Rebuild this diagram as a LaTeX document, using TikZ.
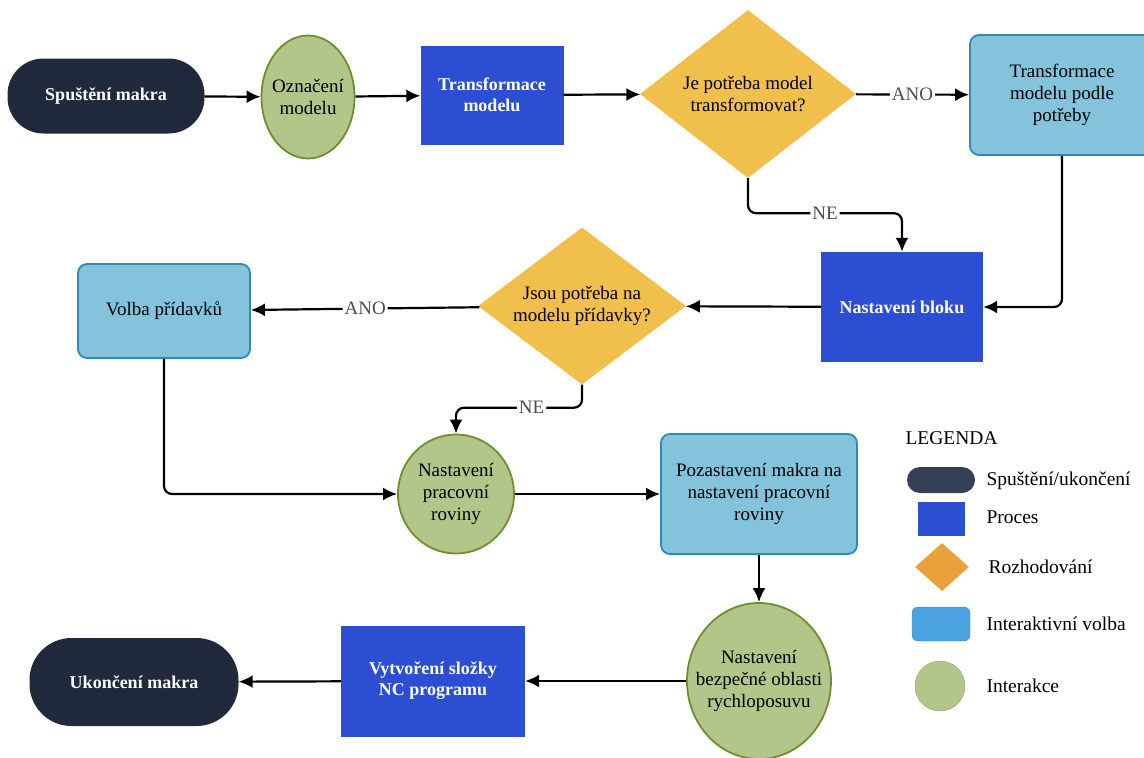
\documentclass[tikz,border=0pt]{standalone}
\usepackage{fontspec}
\setmainfont{Liberation Serif}
\usetikzlibrary{shapes.geometric,arrows.meta}

\definecolor{startc}{HTML}{212A3C}
\definecolor{procc}{HTML}{2B4ED3}
\definecolor{decc}{HTML}{F1C04C}
\definecolor{volc}{HTML}{83C3DC}
\definecolor{volb}{HTML}{2E8AB8}
\definecolor{intc}{HTML}{B2C68A}
\definecolor{intb}{HTML}{6F8E2F}
\definecolor{legstart}{HTML}{344055}
\definecolor{legdec}{HTML}{E9A23B}
\definecolor{legvol}{HTML}{4AA3E0}
\definecolor{legvolb}{HTML}{3A8AC8}

\tikzset{
  txt/.style={font=\fontsize{19}{22}\selectfont, align=center},
  startbox/.style={txt, rounded corners=36, fill=startc, text=white, font=\bfseries\fontsize{18}{21}\selectfont},
  procbox/.style={txt, rectangle, fill=procc, text=white, font=\bfseries\fontsize{18}{21}\selectfont},
  decbox/.style={diamond, fill=decc, inner sep=0pt, label={[txt]center:#1}},
  volbox/.style={txt, rounded corners=9, fill=volc, draw=volb, line width=1.8},
  intbox/.style={ellipse, fill=intc, draw=intb, line width=1.8, inner sep=0pt, label={[txt]center:#1}},
  arr/.style={-{Latex[length=14pt,width=13pt]}, line width=2.2, rounded corners=8},
  lbl/.style={fill=white, text=black!70, font=\fontsize{19}{22}\selectfont, inner sep=2pt},
  legtxt/.style={font=\fontsize{19.5}{23}\selectfont, anchor=west}
}

\begin{document}
\begin{tikzpicture}[x=1pt,y=-1pt]
\useasboundingbox (0,0) rectangle (1144,758);

% prvni rada
\node[startbox, minimum width=197, minimum height=75] (start) at (106,96) {Spuštění makra};
\node[intbox={Označení\\modelu}, minimum width=93, minimum height=123] (oznaceni) at (308,97) {};
\node[procbox, minimum width=143, minimum height=99] (transf) at (492,95) {Transformace\\modelu};
\node[decbox={Je potřeba model\\transformovat?}, minimum width=216, minimum height=168] (dec1) at (748,94) {};
\node[volbox, minimum width=184, minimum height=120] (podle) at (1062,95) {Transformace\\modelu podle\\potřeby};

% druha rada
\node[procbox, minimum width=162, minimum height=110] (blok) at (902,307) {Nastavení bloku};
\node[decbox={Jsou potřeba na\\modelu přídavky?}, minimum width=208, minimum height=157] (dec2) at (582,306) {};
\node[volbox, minimum width=172, minimum height=94] (volba) at (164,311) {Volba přídavků};

% treti rada
\node[intbox={Nastavení\\pracovní\\roviny}, minimum width=116, minimum height=119] (rovina) at (456,494) {};
\node[volbox, minimum width=196, minimum height=120] (pozast) at (759,494) {Pozastavení makra na\\nastavení pracovní\\roviny};

% ctvrta rada
\node[intbox={Nastavení\\bezpečné oblasti\\rychloposuvu}, minimum width=144, minimum height=156] (bezpec) at (759,681) {};
\node[procbox, minimum width=184, minimum height=111] (slozka) at (433,681) {Vytvoření složky\\NC programu};
\node[startbox, minimum width=209, minimum height=88, rounded corners=42] (konec) at (134,682) {Ukončení makra};

% spojnice
\draw[arr] (start) -- (oznaceni);
\draw[arr] (oznaceni) -- (transf);
\draw[arr] (transf) -- (dec1);
\draw[arr] (dec1) -- node[lbl]{ANO} (podle);
\draw[arr] (dec1.south) -- ++(0,35) -| node[lbl, pos=0.25]{NE} (blok.north);
\draw[arr] (podle.south) |- (blok.east);
\draw[arr] (blok) -- (dec2);
\draw[arr] (dec2) -- node[lbl]{ANO} (volba);
\draw[arr] (dec2.south) -- ++(0,23) -| node[lbl, pos=0.2]{NE} (rovina.north);
\draw[arr] (volba.south) |- (rovina.west);
\draw[arr] (rovina) -- (pozast);
\draw[arr] (pozast) -- (bezpec);
\draw[arr] (bezpec) -- (slozka);
\draw[arr] (slozka) -- (konec);

% legenda
\node[legtxt] (leg) at (902,438) {LEGENDA};
\node[fill=legstart, rounded corners=13, minimum width=68, minimum height=26] (l1) at (941,480) {};
\node[fill=procc, minimum width=47, minimum height=34] (l2) at (941,519) {};
\node[diamond, fill=legdec, minimum width=54, minimum height=48, inner sep=0pt] (l3) at (942,567) {};
\node[fill=legvol, draw=legvolb, rounded corners=6, minimum width=58, minimum height=34] (l4) at (941,624) {};
\node[circle, fill=intc, draw=intc!80!black, minimum size=50] (l5) at (940,686) {};
\node[legtxt] at (983,481) {Spuštění/ukončení};
\node[legtxt] at (983,517) {Proces};
\node[legtxt] at (985,567) {Rozhodování};
\node[legtxt] at (983,624) {Interaktivní volba};
\node[legtxt] at (983,686) {Interakce};
\end{tikzpicture}
\end{document}
